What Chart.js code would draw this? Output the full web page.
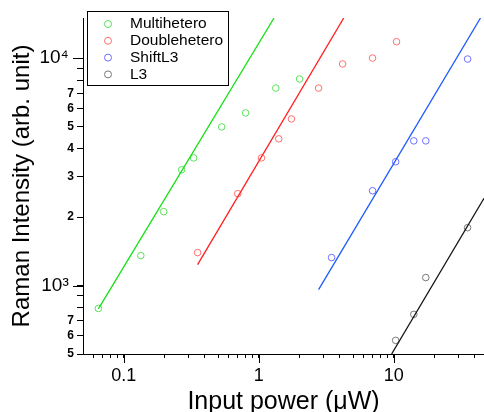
<!DOCTYPE html>
<html>
<head>
<meta charset="utf-8">
<script src="https://cdn.jsdelivr.net/npm/chart.js@4/dist/chart.umd.min.js"></script>
<style>
  body { margin: 0; background: #fff; overflow: hidden; }
  canvas { display: block; }
</style>
</head>
<body>
<canvas id="myChart" width="484" height="412"></canvas>
<script>
const powerMulti = [0.065, 0.134, 0.198, 0.269, 0.330, 0.532, 0.80, 1.34, 2.01];
const ramanMulti = [793, 1354, 2112, 3228, 3640, 4980, 5740, 7380, 8090];
const powerDouble = [0.353, 0.70, 1.05, 1.41, 1.75, 2.78, 4.19, 6.98, 10.5];
const ramanDouble = [1395, 2535, 3640, 4415, 5400, 7380, 9420, 10000, 11800];
const powerShift = [3.47, 6.98, 10.35, 14.1, 17.3, 35.3];
const ramanShift = [1327, 2610, 3500, 4325, 4325, 9900];
const powerL3 = [10.35, 14.1, 17.3, 35.3];
const ramanL3 = [574, 747, 1084, 1796];

// fit lines (end points)
const fitMultiX = [0.065, 1.3];
const fitMultiY = [790, 15000];
const fitDoubleX = [0.353, 4.27];
const fitDoubleY = [1236, 15000];
const fitShiftX = [2.78, 44];
const fitShiftY = [960, 15000];
const fitL3X = [9.66, 46.7];
const fitL3Y = [500, 2417];

// ticks
const xTicks = [0.06, 0.07, 0.08, 0.09, 0.1, 0.2, 0.3, 0.4, 0.5, 0.6, 0.7, 0.8, 0.9,
  1, 2, 3, 4, 5, 6, 7, 8, 9, 10, 20, 30, 40];
const xLabelTicks = [0.1, 1, 10];
const xLabels = ['0.1', '1', '10'];
const yTicks = [500, 600, 700, 800, 900, 1000, 2000, 3000, 4000, 5000, 6000, 7000, 8000, 9000, 10000];
const yLabels = ['5', '6', '7', '', '', '10\u00B3 ', '2', '3', '4', '5', '6', '7', '', '', '10\u2074 '];
const yMajor = [1000, 10000];

const seriesNames = ['Multihetero', 'Doublehetero', 'ShiftL3', 'L3'];
const lineColors = ['rgb(20,225,20)', 'rgb(255,30,30)', 'rgb(30,90,255)', 'rgb(20,20,20)'];
const markColors = ['rgb(90,225,90)', 'rgb(255,110,110)', 'rgb(110,110,255)', 'rgb(120,120,120)'];

function pts(xs, ys) {
    return xs.map((x, i) => ({x: x, y: ys[i]}));
}

function markSet(i, xs, ys) {
    return {
        label: seriesNames[i],
        data: pts(xs, ys),
        showLine: false,
        pointRadius: 3.3,
        pointBorderWidth: 1,
        pointBorderColor: markColors[i],
        pointBackgroundColor: 'rgba(0,0,0,0)'
    };
}

function fitSet(i, xs, ys) {
    return {
        label: '',
        data: pts(xs, ys),
        showLine: true,
        borderColor: lineColors[i],
        borderWidth: 1.3,
        pointRadius: 0
    };
}

// longer ticks for the decades + box legend
const extrasPlugin = {
    id: 'extras',
    afterDraw(chart) {
        const ctx = chart.ctx;
        const xs = chart.scales.x, ys = chart.scales.y;
        const area = chart.chartArea;
        ctx.save();
        ctx.strokeStyle = '#000';
        ctx.lineWidth = 1;
        ctx.beginPath();
        xLabelTicks.forEach(v => {
            const px = Math.round(xs.getPixelForValue(v)) + 0.5;
            ctx.moveTo(px, area.bottom);
            ctx.lineTo(px, area.bottom + 9);
        });
        yMajor.forEach(v => {
            const py = Math.round(ys.getPixelForValue(v)) + 0.5;
            ctx.moveTo(area.left, py);
            ctx.lineTo(area.left - 10, py);
        });
        ctx.stroke();

        // legend
        const bx = 87.5, by = 11.5, bw = 141, bh = 74;
        ctx.fillStyle = '#fff';
        ctx.fillRect(bx, by, bw, bh);
        ctx.strokeStyle = '#000';
        ctx.strokeRect(bx, by, bw, bh);
        ctx.font = '15.5px "Liberation Sans", Arial, sans-serif';
        ctx.textBaseline = 'middle';
        seriesNames.forEach((name, i) => {
            const y = by + 12.5 + i * 16.8;
            ctx.beginPath();
            ctx.strokeStyle = markColors[i];
            ctx.arc(bx + 20.5, y, 3.5, 0, Math.PI * 2);
            ctx.stroke();
            ctx.fillStyle = '#000';
            ctx.fillText(name, bx + 42.5, y);
        });
        ctx.restore();
    }
};

Chart.defaults.font.family = '"Liberation Sans", Arial, sans-serif';
Chart.defaults.color = '#000';

const config = {
    type: 'scatter',
    data: {
        datasets: [
            fitSet(0, fitMultiX, fitMultiY),
            fitSet(1, fitDoubleX, fitDoubleY),
            fitSet(2, fitShiftX, fitShiftY),
            fitSet(3, fitL3X, fitL3Y),
            markSet(0, powerMulti, ramanMulti),
            markSet(1, powerDouble, ramanDouble),
            markSet(2, powerShift, ramanShift),
            markSet(3, powerL3, ramanL3)
        ]
    },
    options: {
        responsive: false,
        animation: false,
        layout: { autoPadding: false, padding: { top: 18, right: 0, left: 0, bottom: 0 } },
        plugins: { legend: { display: false }, tooltip: { enabled: false } },
        scales: {
            x: {
                type: 'logarithmic',
                min: 0.05,
                max: 46.7,
                afterBuildTicks: s => { s.ticks = xTicks.map(v => ({value: v})); },
                afterFit: s => { s.height = 58; },
                border: { color: '#000', width: 1 },
                grid: { drawOnChartArea: false, tickLength: 4, tickColor: '#000' },
                ticks: {
                    autoSkip: false,
                    maxRotation: 0,
                    padding: 7,
                    font: { size: 18 },
                    callback: v => {
                        const k = xLabelTicks.indexOf(v);
                        return k >= 0 ? xLabels[k] : '';
                    }
                },
                title: {
                    display: true,
                    text: 'Input power (\u03BCW)',
                    font: { size: 25, lineHeight: 1 },
                    padding: { top: 0, bottom: -3 }
                }
            },
            y: {
                type: 'logarithmic',
                min: 500,
                max: 15000,
                afterBuildTicks: s => { s.ticks = yTicks.map(v => ({value: v})); },
                afterFit: s => { s.width = 83; },
                border: { color: '#000', width: 1 },
                grid: { drawOnChartArea: false, tickLength: 6, tickColor: '#000' },
                ticks: {
                    autoSkip: false,
                    padding: 3,
                    font: ctx => (ctx.tick && yMajor.includes(ctx.tick.value))
                        ? { size: 19 } : { size: 12, weight: 'bold' },
                    callback: v => {
                        const k = yTicks.indexOf(v);
                        return k >= 0 ? yLabels[k] : '';
                    }
                },
                title: {
                    display: true,
                    text: 'Raman Intensity (arb. unit)',
                    font: { size: 24, lineHeight: 1 },
                    padding: { top: 10, bottom: 0 }
                }
            }
        }
    },
    plugins: [extrasPlugin]
};

new Chart(document.getElementById('myChart').getContext('2d'), config);
</script>
</body>
</html>
